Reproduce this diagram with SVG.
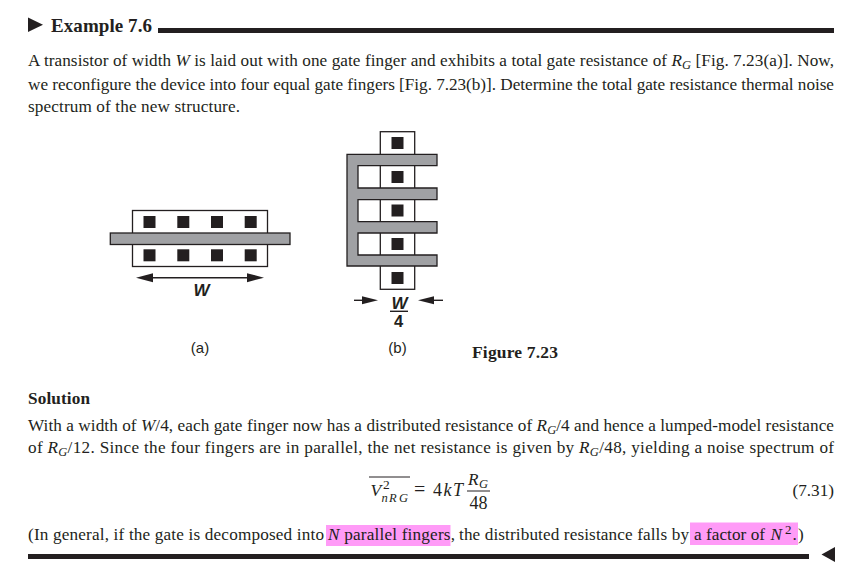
<svg xmlns="http://www.w3.org/2000/svg" width="854" height="577" viewBox="0 0 854 577">
<style>
text{font-family:"Liberation Serif","Times New Roman",serif;font-size:17.2px;fill:#231f20}
.i{font-style:italic}
.s{font-size:12.5px}
.b{font-weight:bold}
.f{font-family:"Liberation Sans",Arial,sans-serif}
.box{fill:#fff;stroke:#231f20;stroke-width:1.3}
.gate{fill:#a0a1a4;stroke:#231f20;stroke-width:1.3}
.sq{fill:#231f20}
.ln{stroke:#231f20;stroke-width:1.4;fill:none}
.hd{fill:#231f20}
.rule{fill:#231f20}
.hl{fill:#ff9bf7}
</style>
<rect width="854" height="577" fill="#fff"/>
<g id="header">
<polygon class="hd" points="28,17.500 43,24.700 28,32"/>
<text class="b" x="51" y="32" textLength="101" style="font-size:19px">Example 7.6</text>
<rect class="rule" x="158" y="28" width="676" height="5"/>
</g>
<g id="intro">
<text x="28" y="66" textLength="806">A transistor of width <tspan class="i">W</tspan> is laid out with one gate finger and exhibits a total gate resistance of <tspan class="i">R</tspan><tspan class="i s" dy="3">G</tspan><tspan dy="-3"> [Fig. 7.23(a)]. Now,</tspan></text>
<text x="28" y="90" textLength="806">we reconfigure the device into four equal gate fingers [Fig. 7.23(b)]. Determine the total gate resistance thermal noise</text>
<text x="28" y="112" textLength="212">spectrum of the new structure.</text>
</g>
<g id="device-a">
<rect class="box" x="132.500" y="210.500" width="135" height="56"/>
<g class="sq">
<rect x="143.500" y="216" width="12" height="12"/><rect x="177.300" y="216" width="12" height="12"/><rect x="211" y="216" width="12" height="12"/><rect x="244.700" y="216" width="12" height="12"/>
<rect x="143.500" y="249.300" width="12" height="12"/><rect x="177.300" y="249.300" width="12" height="12"/><rect x="211" y="249.300" width="12" height="12"/><rect x="244.700" y="249.300" width="12" height="12"/>
</g>
<rect class="gate" x="110.300" y="233" width="179.700" height="11.500"/>
<line class="ln" x1="150" y1="277.700" x2="250" y2="277.700"/>
<polygon class="hd" points="136,277.700 153,273.200 153,282.200"/>
<polygon class="hd" points="264,277.700 247,273.200 247,282.200"/>
<text class="f b i" x="201.500" y="295.500" text-anchor="middle" style="font-size:17px">W</text>
<text class="f" x="200" y="353" text-anchor="middle" style="font-size:15px">(a)</text>
</g>
<g id="device-b">
<rect class="box" x="380.300" y="131.700" width="34.400" height="157.600"/>
<path class="gate" d="M347 154.300H437V165.700H358V188H437V199.700H358V221.700H437V233H358V255H437V266H347Z"/>
<g class="sq">
<rect x="391.500" y="137" width="12" height="12"/><rect x="391.500" y="171" width="12" height="12"/><rect x="391.500" y="204.500" width="12" height="12"/><rect x="391.500" y="238" width="12" height="12"/><rect x="391.500" y="272" width="12" height="12"/>
</g>
<line class="ln" x1="354" y1="300.300" x2="368" y2="300.300"/>
<polygon class="hd" points="378,300.300 362,296.300 362,304.300"/>
<line class="ln" x1="428" y1="300.300" x2="443" y2="300.300"/>
<polygon class="hd" points="418,300.300 434,296.300 434,304.300"/>
<text class="f b i" x="399.500" y="308.500" text-anchor="middle" style="font-size:17px">W</text>
<line class="ln" x1="390" y1="311.300" x2="408" y2="311.300"/>
<text class="f b" x="398.500" y="327" text-anchor="middle" style="font-size:16.500px">4</text>
<text class="f" x="397.500" y="353" text-anchor="middle" style="font-size:15px">(b)</text>
</g>
<text id="caption" class="b" x="472" y="358" textLength="86" style="font-size:17.500px">Figure 7.23</text>
<g id="solution">
<text class="b" x="28" y="404" textLength="62">Solution</text>
<text x="28" y="431" textLength="806">With a width of <tspan class="i">W</tspan>/4, each gate finger now has a distributed resistance of <tspan class="i">R</tspan><tspan class="i s" dy="3">G</tspan><tspan dy="-3">/4 and hence a lumped-model resistance</tspan></text>
<text x="28" y="453" textLength="806">of <tspan class="i">R</tspan><tspan class="i s" dy="3">G</tspan><tspan dy="-3">/12. Since the four fingers are in parallel, the net resistance is given by </tspan><tspan class="i">R</tspan><tspan class="i s" dy="3">G</tspan><tspan dy="-3">/48, yielding a noise spectrum of</tspan></text>
</g>
<g id="equation">
<line class="ln" x1="369" y1="477" x2="410" y2="477" style="stroke-width:1"/>
<text class="i" x="370.500" y="495.500" style="font-size:17.500px">V</text>
<text x="383" y="488.500" style="font-size:13.500px">2</text>
<text class="i s" x="381.500" y="502">n</text>
<text class="i s" x="389" y="502" textLength="19">RG</text>
<text x="414" y="496" style="font-size:20px">=</text>
<text x="433" y="496" style="font-size:18px" textLength="30">4<tspan class="i">kT</tspan></text>
<text class="i" x="468" y="485">R</text>
<text class="i s" x="479" y="488">G</text>
<line class="ln" x1="467" y1="491" x2="490" y2="491" style="stroke-width:1"/>
<text x="469.500" y="509" style="font-size:18px">48</text>
<text x="834" y="496" text-anchor="end">(7.31)</text>
</g>
<g id="closing">
<rect class="hl" x="326" y="525" width="124.500" height="21"/>
<rect class="hl" x="690" y="522.500" width="108" height="22.500"/>
<text x="28" y="540" textLength="296">(In general, if the gate is decomposed into</text>
<text x="328" y="540" textLength="127"><tspan class="i">N</tspan> parallel fingers,</text>
<text x="459" y="540" textLength="230">the distributed resistance falls by</text>
<text x="694" y="540" textLength="71">a factor of</text>
<text class="i" x="770.500" y="540">N</text>
<text x="785" y="534" style="font-size:13px">2</text>
<text x="792.500" y="540">.</text>
<text x="798" y="540">)</text>
<rect class="rule" x="28" y="554" width="781" height="5"/>
<polygon class="hd" points="821.500,554.500 835,547 835,562"/>
</g>
</svg>
